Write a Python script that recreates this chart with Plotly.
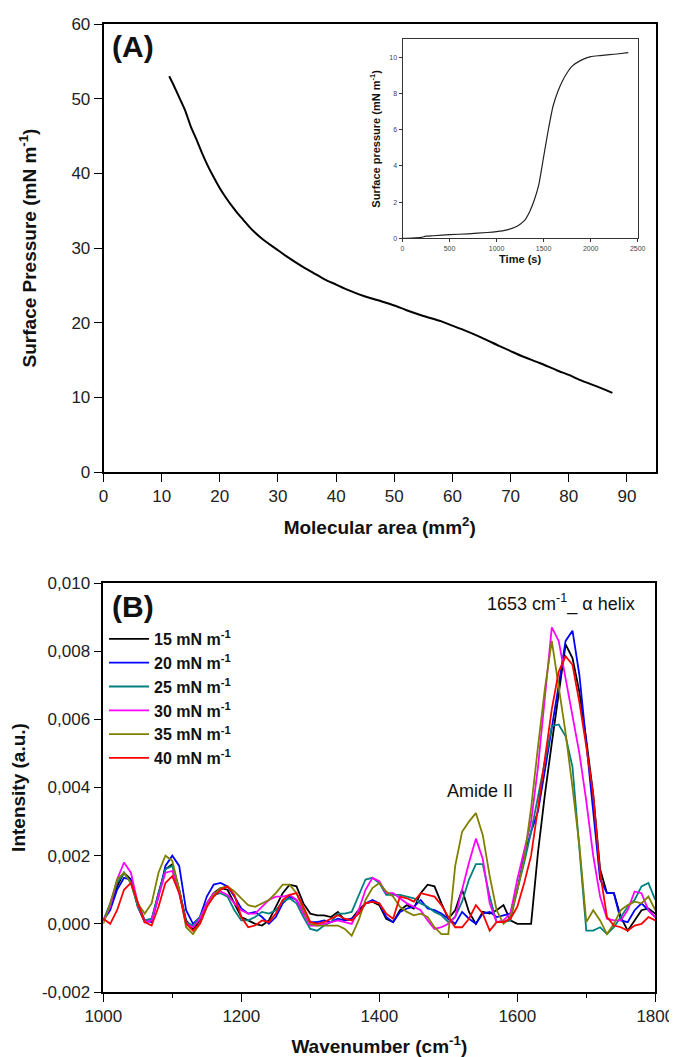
import plotly.graph_objects as go

FONT = "Liberation Sans, Arial, sans-serif"

# ---------------- Panel A: isotherm ----------------
area = [11.3, 12, 13, 14, 15, 16, 17, 18, 19, 20, 21, 22, 23, 24, 25, 26, 27, 28,
        30, 32, 34, 36, 38, 40, 42, 45, 48, 50, 52, 55, 58, 60, 62, 65, 68, 70,
        72, 75, 78, 80, 82, 85, 87.5]
pressure = [53.0, 51.9, 50.2, 48.5, 46.3, 44.5, 42.6, 40.9, 39.4, 38.0, 36.8, 35.7,
            34.7, 33.8, 32.9, 32.1, 31.4, 30.8, 29.7, 28.6, 27.6, 26.7, 25.8, 25.1,
            24.4, 23.5, 22.8, 22.3, 21.7, 20.9, 20.2, 19.6, 19.0, 18.0, 16.9, 16.2,
            15.5, 14.6, 13.6, 13.0, 12.3, 11.4, 10.6]

# Inset: adsorption kinetics
time_s = [0, 100, 200, 250, 330, 500, 700, 900, 1000, 1100, 1200, 1250, 1300, 1350,
          1400, 1450, 1500, 1550, 1600, 1650, 1700, 1750, 1800, 1900, 2000, 2100,
          2200, 2300, 2400]
inset_p = [0.0, 0.01, 0.05, 0.12, 0.14, 0.2, 0.25, 0.32, 0.37, 0.45, 0.62, 0.78,
           1.0, 1.45, 2.1, 3.0, 4.5, 6.0, 7.3, 8.1, 8.7, 9.15, 9.5, 9.85, 10.04,
           10.1, 10.15, 10.2, 10.26]

# ---------------- Panel B: PM-IRRAS spectra ----------------
wavenumber = list(range(1000, 1801, 10))

s15 = [0.1, 0.5, 1.1, 1.5, 1.3, 0.5, 0.05, 0.1, 0.9, 1.6,
       1.75, 1.0, 0.1, -0.15, 0.1, 0.6, 0.9, 1.05, 1.0, 0.6,
       0.2, 0.1, 0.0, -0.05, 0.1, 0.5, 0.9, 1.15, 1.1, 0.6,
       0.3, 0.25, 0.25, 0.2, 0.35, 0.1, 0.15, 0.4, 0.6, 0.65,
       0.55, 0.15, 0.05, 0.4, 0.55, 0.45, 0.9, 1.15, 1.1, 0.6,
       0.15, 0.4, 1.0, 0.35, 0.0, 0.35, 0.3, 0.4, 0.55, 0.1,
       0.0, 0.0, 0.0, 2.1, 3.8, 5.3, 6.8, 8.2, 7.8, 6.8,
       5.4, 3.8, 1.6, 0.9, 0.9, 0.2, -0.2, 0.1, 0.4, 0.45,
       0.3]
s20 = [0.1, 0.4, 1.0, 1.35, 1.3, 0.6, 0.1, 0.05, 0.8, 1.7,
       2.0, 1.7, 0.4, 0.0, 0.2, 0.8, 1.15, 1.2, 1.1, 0.8,
       0.45, 0.3, 0.35, 0.2, 0.0, 0.2, 0.6, 0.8, 0.7, 0.35,
       0.05, 0.05, 0.1, 0.05, 0.15, 0.1, 0.15, 0.3, 0.6, 0.7,
       0.6, 0.2, 0.05, 0.35, 0.45, 0.5, 0.7, 0.45, 0.4, 0.3,
       0.15, 0.0, 0.35, 0.15, 0.0, 0.3, 0.35, 0.2, 0.25, 0.3,
       1.0, 2.0, 2.7, 3.3, 4.5, 5.7, 7.0, 8.3, 8.6, 7.3,
       5.3, 3.5, 1.3, 0.9, 0.9, 0.1, 0.05, 0.4, 0.6, 0.4,
       0.2]
s25 = [0.1, 0.6, 1.2, 1.5, 1.2, 0.5, 0.1, 0.15, 0.9, 1.6,
       1.7, 1.0, 0.05, -0.05, 0.2, 0.6, 0.85, 0.9, 0.8, 0.4,
       0.1, 0.1, 0.2, 0.35, 0.3, 0.4, 0.65, 0.75, 0.6, 0.2,
       -0.15, -0.2, -0.05, 0.05, 0.3, 0.3, 0.35, 0.8, 1.3, 1.35,
       1.2, 0.85, 0.85, 0.85, 0.8, 0.75, 0.6, 0.5, 0.35, 0.25,
       0.05, 0.2, 0.65, 1.3, 1.75, 1.75, 0.8, 0.05, 0.05, 0.1,
       1.0, 1.8, 2.7, 3.7, 4.7, 5.8, 5.85, 5.5, 4.6, 2.2,
       -0.2, -0.2, -0.1, -0.3, -0.1, 0.2, 0.5, 0.7, 1.1, 1.2,
       0.7]
s30 = [0.1, 0.5, 1.3, 1.8, 1.5, 0.6, 0.05, 0.1, 0.8, 1.5,
       1.55, 0.9, 0.0, -0.1, 0.15, 0.6, 0.9, 0.95, 0.85, 0.6,
       0.4, 0.3, 0.3, 0.5, 0.7, 0.8, 0.8, 0.85, 0.7, 0.3,
       -0.05, -0.05, 0.0, 0.05, 0.1, 0.05, 0.0, 0.4, 1.0, 1.35,
       1.25, 0.9, 0.9, 0.75, 0.6, 0.5, 0.4, 0.1, -0.15, -0.1,
       0.0, 0.2, 1.0, 1.8, 2.5, 1.9, 0.6, 0.05, 0.1, 0.3,
       1.3, 2.2, 3.0, 4.6, 6.6, 8.7, 8.3, 7.2, 6.1, 5.0,
       3.6, 2.0, 0.8, 0.15, 0.1, 0.1, 0.4, 0.95, 0.9, 0.4,
       0.2]
s35 = [0.0, 0.6, 1.3, 1.5, 1.2, 0.6, 0.3, 0.6, 1.5, 2.0,
       1.85, 1.0, -0.1, -0.3, 0.0, 0.5, 0.85, 1.05, 1.1, 0.95,
       0.75, 0.55, 0.5, 0.6, 0.7, 0.9, 1.15, 1.15, 0.9, 0.4,
       0.0, -0.05, -0.05, -0.05, -0.05, -0.15, -0.35, 0.1, 0.7, 1.05,
       1.2, 0.95, 0.8, 0.5, 0.35, 0.25, 0.3, 0.2, -0.1, -0.3,
       -0.3, 1.7, 2.7, 3.0, 3.25, 2.6, 1.4, 0.4, 0.0, 0.2,
       1.0, 1.9, 3.4, 5.2, 6.9, 8.3, 7.0, 5.6, 4.0, 2.3,
       0.05, 0.4, 0.1, -0.3, 0.0, 0.4, 0.55, 0.65, 0.6, 0.8,
       0.4]
s40 = [0.15, 0.0, 0.4, 1.0, 1.2, 0.6, 0.05, -0.05, 0.5, 1.2,
       1.4, 0.9, 0.0, -0.2, 0.0, 0.5, 0.8, 1.0, 1.1, 0.85,
       0.2, -0.1, -0.05, 0.1, 0.05, 0.3, 0.7, 0.85, 0.9, 0.5,
       0.05, 0.0, 0.05, 0.15, 0.25, 0.15, 0.1, 0.3, 0.6, 0.65,
       0.6, 0.3, 0.15, 0.8, 0.75, 0.65, 0.9, 0.85, 0.8, 0.55,
       0.2, -0.1, -0.1, 0.15, 0.55, 0.3, -0.2, 0.05, 0.05, 0.15,
       0.5, 1.2, 2.0, 3.4, 4.9, 6.3, 7.4, 7.85, 7.6, 6.5,
       5.2, 3.8, 1.5, 0.2, -0.05, -0.1, -0.2, -0.05, 0.0, 0.2,
       0.1]

series_names = ["<b>15 mN m<sup>-1</sup></b>", "<b>20 mN m<sup>-1</sup></b>",
                "<b>25 mN m<sup>-1</sup></b>", "<b>30 mN m<sup>-1</sup></b>",
                "<b>35 mN m<sup>-1</sup></b>", "<b>40 mN m<sup>-1</sup></b>"]
series_vals = [s15, s20, s25, s30, s35, s40]
series_colors = ["#000000", "#0000FF", "#008080", "#FF00FF", "#808000", "#FF0000"]

b_ticks = [-0.002, 0.0, 0.002, 0.004, 0.006, 0.008, 0.010]
b_ticktext = ["-0,002", "0,000", "0,002", "0,004", "0,006", "0,008", "0,010"]

# page body has an 8px margin: figure is placed at (8, 8) in the window
OX, OY = 8, 8
W, H = 677 - OX, 1057 - OY
def px(x):
    return (x - OX) / W
def py(y):
    return 1 - (y - OY) / H

fig = go.Figure()

fig.add_trace(go.Scatter(x=area, y=pressure, mode="lines", line=dict(color="black", width=2, shape="spline", smoothing=0.6),
                         xaxis="x", yaxis="y", showlegend=False))
fig.add_trace(go.Scatter(x=time_s, y=inset_p, mode="lines", line=dict(color="#222", width=1.2, shape="spline", smoothing=0.6),
                         xaxis="x3", yaxis="y3", showlegend=False))

for i, (nm, vals, col) in enumerate(zip(series_names, series_vals, series_colors)):
    fig.add_trace(go.Scatter(x=wavenumber, y=[v * 1e-3 for v in vals], mode="lines",
                             name=nm, line=dict(color=col, width=1.8),
                             xaxis="x2", yaxis="y2", legendgroup=f"g{i}"))

axis_common = dict(showline=True, linecolor="black", linewidth=1.6, mirror=True,
                   ticks="outside", ticklen=8, tickwidth=1.4, tickcolor="black",
                   showgrid=False, zeroline=False,
                   tickfont=dict(family=FONT, size=17, color="#222"), automargin=False)

title_font = dict(family=FONT, size=19, color="#111")

fig.update_layout(
    width=W, height=H, margin=dict(l=0, r=0, t=0, b=0),
    paper_bgcolor="white", plot_bgcolor="white",
    font=dict(family=FONT),
    xaxis=dict(axis_common, domain=[px(103.5), px(656)], anchor="y", range=[0, 95],
               tickmode="linear", tick0=0, dtick=10,
               title=dict(text="<b>Molecular area (mm<sup>2</sup>)</b>", font=title_font, standoff=15)),
    yaxis=dict(axis_common, domain=[py(472), py(24)], anchor="x", range=[0, 60],
               tickmode="linear", tick0=0, dtick=10,
               title=dict(text="<b>Surface Pressure (mN m<sup>-1</sup>)</b>", font=title_font, standoff=30)),
    xaxis2=dict(axis_common, domain=[px(103.3), px(655.3)], anchor="y2", range=[1000, 1800],
                tickmode="linear", tick0=1000, dtick=200,
                minor=dict(ticks="outside", ticklen=4, tickwidth=1.2, tickcolor="black", dtick=100),
                title=dict(text="<b>Wavenumber (cm<sup>-1</sup>)</b>", font=title_font, standoff=14)),
    yaxis2=dict(axis_common, domain=[py(992), py(583)], anchor="x2", range=[-0.002, 0.010],
                tickmode="array", tickvals=b_ticks, ticktext=b_ticktext,
                title=dict(text="<b>Intensity (a.u.)</b>", font=title_font, standoff=12)),
    xaxis3=dict(showline=True, linecolor="#333", linewidth=1, mirror=True, ticks="outside",
                ticklen=3, tickwidth=0.8, tickcolor="#333", showgrid=False, zeroline=False,
                domain=[px(402.5), px(637.7)], anchor="y3", range=[0, 2500],
                tickmode="linear", tick0=0, dtick=500, automargin=False,
                tickfont=dict(family=FONT, size=7, color="#444"),
                title=dict(text="<b>Time (s)</b>", font=dict(family=FONT, size=11, color="#111"), standoff=4)),
    yaxis3=dict(showline=True, linecolor="#333", linewidth=1, mirror=True, ticks="outside",
                ticklen=3, tickwidth=0.8, tickcolor="#333", showgrid=False, zeroline=False,
                domain=[py(238.3), py(39.3)], anchor="x3", range=[0, 11],
                tickmode="linear", tick0=0, dtick=2, automargin=False,
                tickfont=dict(family=FONT, size=7, color="#444"),
                title=dict(text="<b>Surface pressure (mN m<sup>-1</sup>)</b>",
                           font=dict(family=FONT, size=11, color="#111"), standoff=6)),
    legend=dict(x=px(104), y=py(622), xanchor="left", yanchor="top",
                bgcolor="rgba(0,0,0,0)", font=dict(family=FONT, size=16, color="#111"),
                tracegroupgap=0, traceorder="grouped", itemwidth=40),
    showlegend=True,
    annotations=[
        dict(text="<b>(A)</b>", x=px(110), y=py(47), xref="paper", yref="paper",
             xanchor="left", yanchor="middle", showarrow=False,
             font=dict(family=FONT, size=30, color="#111")),
        dict(text="<b>(B)</b>", x=px(110), y=py(606), xref="paper", yref="paper",
             xanchor="left", yanchor="middle", showarrow=False,
             font=dict(family=FONT, size=30, color="#111")),
        dict(text="1653 cm<sup>-1</sup>_ α helix", x=1664, y=0.0094, xref="x2", yref="y2",
             xanchor="center", yanchor="middle", showarrow=False,
             font=dict(family=FONT, size=18, color="#111")),
        dict(text="Amide II", x=1546, y=0.0039, xref="x2", yref="y2",
             xanchor="center", yanchor="middle", showarrow=False,
             font=dict(family=FONT, size=18, color="#111")),
    ],
)

fig.write_html("out.html")
